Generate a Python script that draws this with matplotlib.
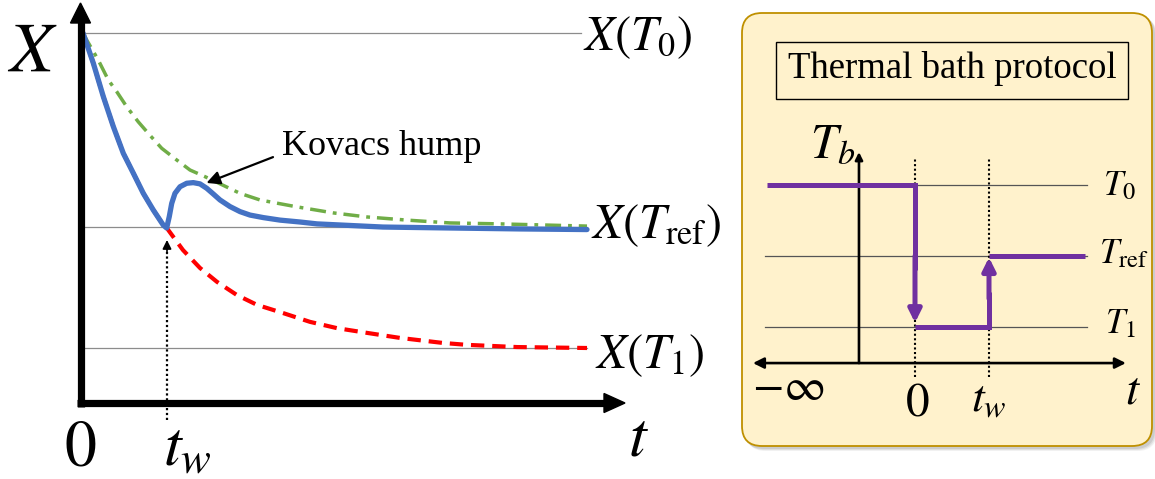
import matplotlib
matplotlib.use("Agg")
import matplotlib.pyplot as plt
from matplotlib.patches import FancyBboxPatch, Rectangle, Polygon

plt.rcParams['mathtext.fontset'] = 'stix'
plt.rcParams['font.family'] = ['Liberation Serif', 'DejaVu Serif']

# ---------------------------------------------------------------------------
# Relaxation of X(t): reference levels
X_T0 = 1.0
X_TREF = 0.385
X_T1 = 0.0
T_WAIT = 1.0
T_END = 6.0

# direct quench T0 -> T1
t_quench = [0.0, 0.123, 0.242, 0.361, 0.480, 0.599, 0.718, 0.837, 0.956, 1.0,
            1.19, 1.393, 1.595, 1.833, 2.071, 2.381, 2.702, 3.024, 3.381,
            3.774, 4.286, 4.571, 5.167, 6.0]
x_quench = [1.0, 0.904, 0.798, 0.703, 0.618, 0.555, 0.491, 0.438, 0.390, 0.380,
            0.311, 0.254, 0.210, 0.168, 0.137, 0.111, 0.083, 0.063, 0.048,
            0.032, 0.016, 0.010, 0.003, 0.0]

# two-step protocol T0 -> T1 (until t_w) -> Tref
t_kovacs = [0.0, 0.123, 0.242, 0.361, 0.480, 0.599, 0.718, 0.837, 0.956, 0.996,
            1.027, 1.056, 1.095, 1.155, 1.235, 1.313, 1.393, 1.473, 1.551,
            1.631, 1.75, 1.869, 1.988, 2.146, 2.345, 2.583, 2.786, 3.179,
            3.571, 4.369, 5.202, 6.0]
x_kovacs = [1.0, 0.904, 0.798, 0.703, 0.618, 0.555, 0.491, 0.438, 0.390, 0.381,
            0.417, 0.459, 0.491, 0.512, 0.523, 0.525, 0.521, 0.507, 0.489,
            0.470, 0.449, 0.433, 0.422, 0.414, 0.406, 0.400, 0.394, 0.389,
            0.384, 0.381, 0.378, 0.376]

# direct quench T0 -> Tref
t_direct = [0.0, 0.044, 0.182, 0.301, 0.401, 0.520, 0.658, 0.798, 0.937, 1.115,
            1.274, 1.452, 1.869, 2.107, 2.325, 2.548, 2.976, 3.381, 3.857,
            4.369, 4.964, 6.0]
x_direct = [1.0, 0.978, 0.914, 0.851, 0.814, 0.766, 0.718, 0.675, 0.634, 0.597,
            0.565, 0.544, 0.491, 0.470, 0.459, 0.448, 0.429, 0.416, 0.406,
            0.397, 0.394, 0.387]

# Thermal bath protocol T_b(t)
BATH_T0 = 1.0
BATH_TREF = 0.5
BATH_T1 = 0.0
bath_start = -2.0
bath_end = 2.3

# ---------------------------------------------------------------------------
W, H = 1155, 479
fig = plt.figure(figsize=(W / 100, H / 100), dpi=100)


def full_axes(x0px, xscale, y0px, yscale, z):
    """Axes spanning the whole figure: data value 0 sits at pixel (x0px, y0px),
    one data unit spans xscale / yscale pixels (y grows upwards)."""
    ax = fig.add_axes([0, 0, 1, 1], zorder=z)
    ax.set_xlim(-x0px / xscale, (W - x0px) / xscale)
    ax.set_ylim((y0px - H) / yscale, y0px / yscale)
    ax.axis('off')
    ax.patch.set_alpha(0)
    return ax


bg = fig.add_axes([0, 0, 1, 1], zorder=0)
bg.set_xlim(0, W)
bg.set_ylim(H, 0)
bg.axis('off')

axL = full_axes(83, 84, 348, 315, 1)
axR = full_axes(915, 74, 327, 142, 2)

ov = fig.add_axes([0, 0, 1, 1], zorder=3)
ov.set_xlim(0, W)
ov.set_ylim(H, 0)
ov.axis('off')
ov.patch.set_alpha(0)

# ------------------------------- left panel --------------------------------
gray = '#8c8c8c'
for lvl in (X_T0, X_TREF, X_T1):
    axL.plot([0, T_END if lvl != X_T0 else 5.93], [lvl, lvl], color=gray,
             lw=0.9, zorder=1)

axL.plot(t_direct, x_direct, color='#70AD47', lw=2.5,
         dashes=(4.6, 2.0, 1.1, 2.0), zorder=2)
axL.plot(t_quench, x_quench, color='#FF0000', lw=3.0, dashes=(3.2, 1.9),
         zorder=3)
axL.plot(t_kovacs, x_kovacs, color='#4472C4', lw=3.8, zorder=4,
         solid_capstyle='round', solid_joinstyle='round')

# waiting time marker
axL.plot([T_WAIT, T_WAIT], [-0.229, 0.305], color='black', lw=1.6,
         ls=(0, (1, 1.2)), zorder=5)
axL.annotate('', xy=(T_WAIT, 0.343), xytext=(T_WAIT, 0.30),
             arrowprops=dict(arrowstyle='-|>', color='black', lw=1.2,
                             mutation_scale=13, shrinkA=0, shrinkB=0),
             zorder=5)

# Kovacs hump annotation
axL.annotate('', xy=(1.47, 0.524), xytext=(2.262, 0.606),
             arrowprops=dict(arrowstyle='-|>', color='black', lw=1.6,
                             mutation_scale=20, shrinkA=0, shrinkB=0),
             zorder=6)

# axes of the left panel
ov.plot([80.5, 80.5], [406.5, 20], color='black', lw=5.2,
        solid_capstyle='butt')
ov.add_patch(Polygon([[70.5, 23], [90.5, 23], [80.5, 3]], closed=True,
                     color='black'))
ov.plot([77, 607], [403, 403], color='black', lw=5.2, solid_capstyle='butt')
ov.add_patch(Polygon([[604, 393.5], [604, 412.5], [625, 403]], closed=True,
                     color='black'))

ov.text(32, 71, r'$X$', fontsize=51, ha='center', va='baseline')
ov.text(80, 465, r'$0$', fontsize=46, ha='center', va='baseline')
ov.text(163, 465, r'$t_w$', fontsize=46, ha='left', va='baseline')
ov.text(638, 456, r'$t$', fontsize=46, ha='center', va='baseline')
ov.text(583, 50, r'$X(T_0)$', fontsize=35, ha='left', va='baseline')
ov.text(591, 238, r'$X(T_{\mathrm{ref}})$', fontsize=35, ha='left',
        va='baseline')
ov.text(595, 368, r'$X(T_1)$', fontsize=35, ha='left', va='baseline')
ov.text(282, 155, 'Kovacs hump', fontsize=26, ha='left', va='baseline')

# ------------------------------- right panel -------------------------------
box_fill = '#FFF2CC'
for k, a in ((4.0, 0.10), (3.0, 0.15), (2.0, 0.2)):
    bg.add_patch(FancyBboxPatch((742 + k, 13 + k), 411, 434,
                                boxstyle='round,pad=0,rounding_size=20',
                                fc='#7f7f7f', ec='none', alpha=a))
bg.add_patch(FancyBboxPatch((742, 13), 410, 433,
                            boxstyle='round,pad=0,rounding_size=20',
                            fc=box_fill, ec='#BF9000', lw=1.3))
bg.add_patch(Rectangle((776, 42), 352, 57, fc=box_fill, ec='black', lw=1.0))
ov.text(952, 78, 'Thermal bath protocol', fontsize=26.5, ha='center',
        va='baseline')

dgray = '#555555'
for lvl in (BATH_T0, BATH_TREF, BATH_T1):
    x0 = 0.0 if lvl == BATH_T0 else -2.03
    axR.plot([x0, 2.32], [lvl, lvl], color=dgray, lw=0.9, zorder=1)

# time axis and T_b axis
axR.annotate('', xy=(-2.19, -0.254), xytext=(2.85, -0.254),
             arrowprops=dict(arrowstyle='<|-|>', color='black', lw=1.9,
                             mutation_scale=16, shrinkA=0, shrinkB=0))
axR.annotate('', xy=(-0.757, 1.232), xytext=(-0.757, -0.254),
             arrowprops=dict(arrowstyle='-|>', color='black', lw=1.9,
                             mutation_scale=11, shrinkA=0, shrinkB=0))

for tt in (0.0, T_WAIT):
    axR.plot([tt, tt], [-0.352, 1.197], color='black', lw=1.5,
             ls=(0, (1, 1.2)), zorder=2)

purple = '#7030A0'
plw = 3.6
axR.plot([bath_start, 0.0, 0.0], [BATH_T0, BATH_T0, BATH_T0 - 0.6],
         color=purple, lw=plw, zorder=3, solid_joinstyle='miter',
         solid_capstyle='butt')
axR.plot([0.0, T_WAIT, T_WAIT], [BATH_T1, BATH_T1, BATH_T1 + 0.25],
         color=purple, lw=plw, zorder=3, solid_joinstyle='miter',
         solid_capstyle='butt')
axR.plot([T_WAIT, bath_end], [BATH_TREF, BATH_TREF], color=purple, lw=plw,
         zorder=3, solid_capstyle='butt')
axR.annotate('', xy=(0.0, BATH_T1 + 0.03), xytext=(0.0, BATH_T0 - 0.5),
             arrowprops=dict(arrowstyle='-|>', color=purple, lw=plw,
                             mutation_scale=19, shrinkA=0, shrinkB=0),
             zorder=4)
axR.annotate('', xy=(T_WAIT, BATH_TREF - 0.01),
             xytext=(T_WAIT, BATH_T1 + 0.2),
             arrowprops=dict(arrowstyle='-|>', color=purple, lw=plw,
                             mutation_scale=19, shrinkA=0, shrinkB=0),
             zorder=4)

ov.text(810, 157, r'$T_b$', fontsize=35, ha='left', va='baseline')
ov.text(1103, 195, r'$T_0$', fontsize=25, ha='left', va='baseline')
ov.text(1099, 263, r'$T_{\mathrm{ref}}$', fontsize=25, ha='left',
        va='baseline')
ov.text(1105, 333, r'$T_1$', fontsize=25, ha='left', va='baseline')
ov.text(752, 400, r'$-\infty$', fontsize=33, ha='left', va='baseline')
ov.text(917, 415, r'$0$', fontsize=34, ha='center', va='baseline')
ov.text(971, 412, r'$t_w$', fontsize=33, ha='left', va='baseline')
ov.text(1133, 403, r'$t$', fontsize=34, ha='center', va='baseline')

fig.savefig('out.png', dpi=100, facecolor='white')
